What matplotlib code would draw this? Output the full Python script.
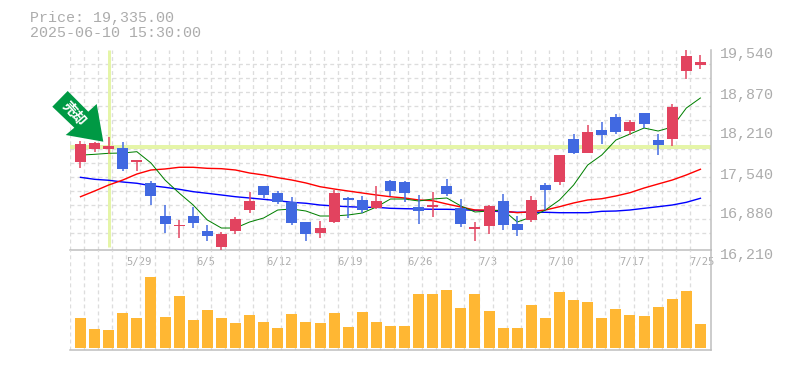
import numpy as np
import matplotlib
matplotlib.use("Agg")
import matplotlib.pyplot as plt
from matplotlib.patches import Polygon
from matplotlib.transforms import ScaledTranslation, Affine2D

opens = [17675,17892,17892,17908,17675,17326,16776,16610,16776,16526,16260,16526,16876,17276,17159,17009,
         16676,16493,16676,17076,17043,16909,17359,17342,16926,16926,17276,16909,16560,16610,17026,16643,
         16710,17292,17342,18058,17825,18208,18424,18191,18491,18041,18058,19190,19290]
closes = [17975,17992,17942,17559,17708,17109,16643,16626,16660,16443,16476,16726,17026,17126,17009,16660,
          16476,16576,17159,17043,16876,17026,17192,17159,16860,16959,17142,16643,16593,16943,16626,16543,
          17043,17209,17792,17825,18175,18125,18175,18341,18308,17958,18591,19440,19335]
highs = [18025,18008,18092,18008,17708,17359,16959,16710,16926,16626,16510,16760,17176,17276,17192,17092,
         16676,16693,17209,17092,17109,17276,17375,17359,17126,17176,17392,17059,16676,16959,17142,16776,
         17109,17326,17792,18141,18291,18341,18474,18375,18491,18141,18641,19540,19457]
lows = [17575,17842,17808,17525,17525,16959,16493,16410,16576,16360,16193,16476,16826,17076,16976,16626,
        16360,16410,16660,16743,16826,16893,17109,17009,16643,16760,17109,16593,16360,16476,16543,16443,
        16676,16876,17292,17808,17825,17975,18141,18125,18241,17792,17942,19057,19224]
ma_short = [17790,17803,17820,17825,17847,17659,17375,17159,16959,16710,16576,16576,16676,16743,16876,16893,
            16859,16776,16776,16793,16826,16926,17059,17059,17026,17059,17076,16943,16843,16859,16876,16676,
            16759,16876,17043,17292,17625,17792,18041,18141,18241,18191,18258,18574,18741]
ma_mid = [17097,17192,17292,17375,17475,17542,17559,17587,17587,17570,17564,17542,17492,17459,17414,17375,
          17326,17264,17226,17192,17159,17126,17097,17076,17043,17031,16976,16926,16876,16876,16859,16831,
          16848,16876,16931,16993,17043,17064,17109,17164,17242,17309,17375,17459,17554]
ma_long = [17420,17387,17371,17342,17321,17281,17254,17221,17181,17154,17126,17097,17076,17054,17031,17004,
           16988,16959,16943,16931,16921,16921,16904,16898,16893,16888,16888,16881,16871,16859,16848,16838,
           16838,16838,16831,16831,16831,16854,16859,16876,16904,16931,16959,17004,17071]
volumes = [30,19,18,35,30,71,31,52,28,38,30,25,33,26,20,34,26,25,35,21,36,26,22,
           22,54,54,58,40,54,37,20,20,43,30,56,48,46,30,39,33,32,41,49,57,24]
price_ticks = [19540,18870,18210,17540,16880,16210]
price_labels = ["19,540","18,870","18,210","17,540","16,880","16,210"]
date_idx = [4,9,14,19,24,29,34,39,44]
date_labels = ["5/29","6/5","6/12","6/19","6/26","7/3","7/10","7/17","7/25"]
marker_idx = 2
marker_price = 17925
title_lines = ["Price: 19,335.00", "2025-06-10 15:30:00"]
marker_text = "売却"

W, H = 785, 370
RED, BLUE, VOL = "#E2435F", "#4169E1", "#FFB733"
GREY, TEXT, GRID, HILITE = "#BDBDBD", "#ACACAC", "#DDDDDD", "#E5F5A8"
MONO = ["Liberation Mono", "DejaVu Sans Mono"]
SMALL = ["DejaVu Sans Mono"]
PX = 0.72

fig = plt.figure(figsize=(W/100, H/100), dpi=100, facecolor="white")
def box(l, t, r, b):
    return [l/W, 1-b/H, (r-l)/W, (b-t)/H]
ax = fig.add_axes(box(70, 50, 710.7, 250))
av = fig.add_axes(box(70, 250, 710.7, 350))

xlim = (-0.745, 44.73)
n = len(opens)
x = np.arange(n)
grid_ls = (0, (3, 2.4))
for a in (ax, av):
    a.set_xlim(*xlim)
    a.set_facecolor("none")
    a.set_axisbelow(True)
    a.set_xticks(x - 0.745, minor=True)
    a.grid(True, which="minor", axis="x", color=GRID, lw=1.3*PX, ls=grid_ls)
    a.tick_params(which="both", length=0)
    for s in ("left", "top"):
        a.spines[s].set_visible(False)
    for s in ("right", "bottom"):
        a.spines[s].set_color(GREY)
        a.spines[s].set_linewidth(1.5*PX)

# price panel
ax.set_ylim(16210, 19540)
ax.set_yticks(19540 - np.arange(14) * 234.6, minor=True)
ax.grid(True, which="minor", axis="y", color=GRID, lw=1.3*PX, ls=grid_ls)
ax.set_xticks([])
ax.set_xticks(x - 0.745, minor=True)
ax.yaxis.tick_right()
ax.set_yticks(price_ticks)
ax.set_yticklabels(price_labels, family=MONO, fontsize=15*PX, color=TEXT)
ax.tick_params(axis="y", which="major", pad=9*PX, length=0)
ax.tick_params(axis="y", which="minor", length=0)
off = ScaledTranslation(0, -3/100, fig.dpi_scale_trans)
for t in ax.get_yticklabels():
    t.set_transform(t.get_transform() + off)
    t.set_clip_on(False)

ax.axhline(marker_price, color=HILITE, lw=4*PX, zorder=1.5)
ax.plot([marker_idx, marker_idx], [16260, 19540], color=HILITE, lw=3*PX, zorder=1.5, solid_capstyle="butt")

ax.plot(x, ma_long, color="#0000FF", lw=1.4*PX, zorder=2)
ax.plot(x, ma_mid, color="#FF0000", lw=1.4*PX, zorder=2)
ax.plot(x, ma_short, color="#008000", lw=1.0*PX, zorder=2)

body_w = 11/14.09
for i in range(n):
    c = RED if closes[i] >= opens[i] else BLUE
    ax.vlines(i, lows[i], highs[i], color=c, lw=1.5*PX, zorder=3)
    lo, hi = sorted((opens[i], closes[i]))
    ax.bar(i, hi-lo, bottom=lo, width=body_w, color=c, lw=0, zorder=3)

# volume panel
av.bar(x, volumes, width=body_w, color=VOL, lw=0, zorder=3)
av.set_ylim(-2, 98)
av.set_yticks([])
av.xaxis.tick_top()
av.set_xticks(np.array(date_idx) - 0.78)
av.set_xticklabels(date_labels, family=SMALL, fontsize=10.5*PX, color=TEXT, ha="left")
av.tick_params(axis="x", which="major", pad=-17*PX, length=0)
av.tick_params(axis="x", which="minor", length=0)

# arrow marker
pix = Affine2D().scale(1, -1).translate(0, H)
arrow = [(67.7,91),(88.3,111.7),(96.7,104),(103.3,141.7),(65.7,135),(74.3,127.7),(52.3,106.7)]
fig.add_artist(Polygon(arrow, closed=True, facecolor="#009944", edgecolor="none", transform=pix, zorder=6))
fig.text(74/W, 1-113.5/H, marker_text, family=["Noto Sans CJK JP","DejaVu Sans"], fontweight="bold",
         fontsize=10, color="white", rotation=-48, rotation_mode="anchor", ha="center", va="center", zorder=7)

for line, yy in zip(title_lines, (18, 33)):
    fig.text(30/W, 1-yy/H, line, family=MONO, fontsize=15*PX, color=TEXT, ha="left", va="center")

fig.savefig("out.png", dpi=100, facecolor="white")
